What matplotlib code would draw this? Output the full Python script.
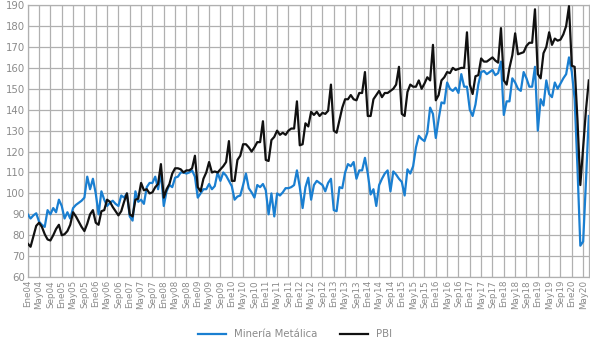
import numpy as np
import matplotlib
matplotlib.use('Agg')
import matplotlib.pyplot as plt

# Índices mensuales Ene04 - Jul20
mineria = [
    90, 88, 89.5, 90.5, 86.5, 85, 84, 92, 90, 93, 91, 97,                       # 2004
    94, 88, 91, 88, 93, 94.5, 95.5, 96.5, 98, 108, 102, 107,                     # 2005
    100, 90, 101, 97, 94, 95.5, 96.5, 95, 94, 99, 98, 100,                       # 2006
    89, 87, 101, 96, 97, 95, 103, 105, 105, 108, 102, 110,                       # 2007
    94, 101, 104, 103, 107.5, 108, 110, 110, 109.5, 110, 111, 108,               # 2008
    98, 100, 102, 102, 104.5, 102, 103.5, 110, 106, 110, 108.5, 106,             # 2009
    103.5, 97, 98.5, 99, 104, 109.5, 102.5, 100.5, 98, 104, 103, 104.5,          # 2010
    101.5, 90, 100, 89, 100, 99, 100.5, 102.5, 102.5, 103, 104, 111,             # 2011
    103, 93, 103, 107.5, 97, 104, 106, 105, 104, 101, 105, 107,                  # 2012
    92, 91.5, 103, 102.5, 110, 114, 113, 115, 107, 111, 111, 117,                # 2013
    109.5, 99.5, 102, 94, 104, 107, 109.5, 111, 101, 110.5, 109, 107,            # 2014
    105.5, 99, 111.5, 109.5, 113, 122, 127.5, 126, 125, 129, 141, 138,           # 2015
    126.5, 135.5, 143.5, 143, 153, 150, 149, 150.5, 148, 157, 151, 151,          # 2016
    140, 137, 142.5, 152, 158, 158.5, 157, 158, 159, 156.5, 157.5, 163,          # 2017
    137.5, 144, 144, 155, 153, 150, 149, 158, 155, 151, 151, 160.5,              # 2018
    130, 145, 142, 154, 147.5, 146, 153, 150, 152.5, 155, 157, 165,              # 2019
    158, 145, 112, 75, 77, 106, 137,                                             # 2020
]

pbi = [
    76, 74.5, 79.5, 84.5, 86, 84, 80.5, 78, 77.5, 80, 83, 85,                    # 2004
    80, 80.5, 82, 85, 91, 89, 86.5, 84, 82, 85.5, 90, 92,                        # 2005
    86, 85, 91.5, 92, 97, 96, 93.5, 91.5, 89.5, 91.5, 96, 100,                   # 2006
    90, 89, 97, 97.5, 105, 101.5, 102, 100, 100.5, 103, 104.5, 114,              # 2007
    98, 102, 104.5, 109.5, 112, 112, 111.5, 110, 111, 111, 112, 118,             # 2008
    103, 101, 107, 110, 115, 110, 110.5, 110, 111.5, 113, 115, 125,              # 2009
    106, 106, 116, 118, 123.5, 123.5, 122, 120, 122, 124.5, 124.5, 134.5,        # 2010
    116, 115.5, 125.5, 127, 130, 128, 129, 128, 130, 131, 131, 144,              # 2011
    123, 123.5, 133.5, 132, 139, 137.5, 139, 137, 138.5, 138, 139.5, 152,        # 2012
    130, 129, 135, 141, 145, 145, 147, 145, 144.5, 148, 148, 158,                # 2013
    137, 137, 145, 147, 149, 146, 148, 148, 149, 150, 152, 160.5,                # 2014
    138, 137, 148.5, 152, 151, 151, 154, 150, 152.5, 155.5, 154, 171,            # 2015
    144.5, 147, 154, 155.5, 158, 157.5, 160, 159, 159.5, 160, 160, 177,          # 2016
    152, 147.5, 156, 156.5, 164.5, 163, 163, 164, 165, 163.5, 162.5, 179,        # 2017
    154, 152, 160, 166, 176.5, 166.5, 167, 167.5, 170.5, 172, 172, 188,          # 2018
    157, 155, 167, 170, 177, 171, 174, 173, 173.5, 176, 180, 189.5,              # 2019
    161, 160.5, 135, 104, 122, 140, 154,                                         # 2020
]

meses_etiqueta = ['Ene', 'May', 'Sep']
anios = list(range(2004, 2021))
etiquetas = [f'{m}{str(a)[2:]}' for a in anios for m in meses_etiqueta][:50]

x = np.arange(len(pbi))

fig = plt.figure(figsize=(5.9, 3.4), dpi=100)
ax = fig.add_axes([0.047, 0.185, 0.951, 0.80])

ax.plot(x, mineria, color='#1a7fd1', lw=1.6, label='Minería Metálica', zorder=3)
ax.plot(x, pbi, color='#111111', lw=1.6, label='PBI', zorder=3)

ax.set_xlim(0, len(pbi) - 1)
ax.set_ylim(60, 190)
ax.set_yticks(range(60, 191, 10))
ax.set_xticks(np.arange(0, len(etiquetas) * 4, 4))
ax.set_xticklabels(etiquetas, rotation=90)

ax.grid(True, color='#b0b0b0', lw=0.9)
ax.set_axisbelow(True)
for s in ax.spines.values():
    s.set_color('#b0b0b0')
    s.set_linewidth(0.9)
ax.tick_params(length=0, colors='#8a8a8a', pad=2)
ax.tick_params(axis='x', labelsize=6.3)
ax.tick_params(axis='y', labelsize=7.3)

fig.legend(loc='lower center', ncol=2, frameon=False, fontsize=7.3,
           bbox_to_anchor=(0.5, -0.025), handlelength=2.8, columnspacing=2.2,
           labelcolor='#8a8a8a')

fig.savefig('out.png', dpi=100)
